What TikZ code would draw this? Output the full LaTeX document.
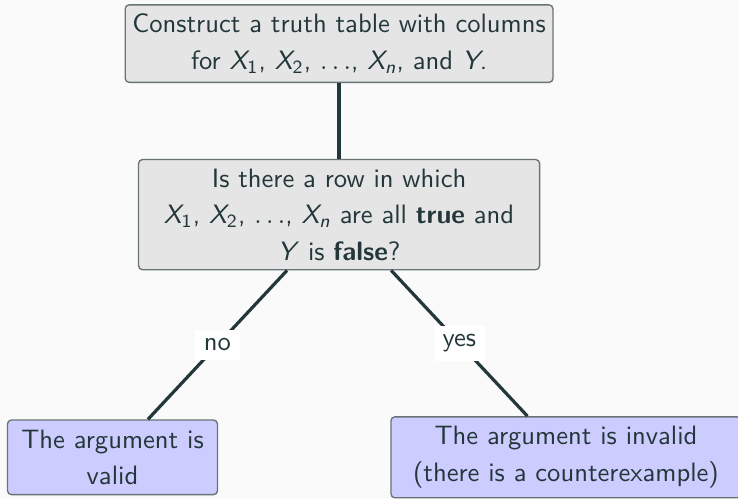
\documentclass[tikz,border=0pt,10pt]{standalone}
\usepackage{amsmath}
\usepackage{xcolor}
\usepackage{tikz}
\usetikzlibrary{positioning}
\renewcommand{\familydefault}{\sfdefault}
\definecolor{darkteal}{HTML}{23373B}
\definecolor{framegray}{HTML}{687376}
\definecolor{pagebg}{HTML}{FAFAFA}
\newcommand{\xv}[2]{$\textit{#1}_{\textup{#2}}$}

\begin{document}
\begin{tikzpicture}[
  node distance=28.5pt and 64.7pt,
  box/.style={draw=framegray, line width=0.5pt, rounded corners=1.5pt,
    fill=black!10, align=center, inner xsep=2.7pt, inner ysep=3.4pt,
    font=\fontsize{10}{13.8}\selectfont},
  leaf/.style={box, fill=blue!20, inner ysep=3.6pt},
  lbl/.style={fill=white},
  edge/.style={draw=darkteal, line width=1.2pt},
  text=darkteal
]
\useasboundingbox[fill=pagebg] (0,0) rectangle (277.5pt,-187.6pt);
\node[box] (table) at (127.5pt,-16.4pt)
  {Construct a truth table with columns\\
   for \xv{X}{1}, \xv{X}{2}, $\ldots$, \xv{X}{\textit{n}}, and \textit{Y}.};
\node[box, below=of table, minimum width=150.8pt] (question)
  {Is there a row in which\\
   \xv{X}{1}, \xv{X}{2}, $\ldots$, \xv{X}{\textit{n}} are all \textbf{true} and\\
   \textit{Y} is \textbf{false}?};
\node[leaf, below=56pt of question, xshift=-85.2pt, minimum width=79pt] (valid)
  {The argument is\\valid};
\node[leaf, right=of valid, minimum width=131.6pt] (invalid)
  {The argument is invalid\\(there is a counterexample)};
\draw[edge] (table) -- (question);
\draw[edge] (question) -- node[lbl] {no} (valid);
\draw[edge] (question) -- node[lbl] {yes} (invalid);
\end{tikzpicture}
\end{document}
